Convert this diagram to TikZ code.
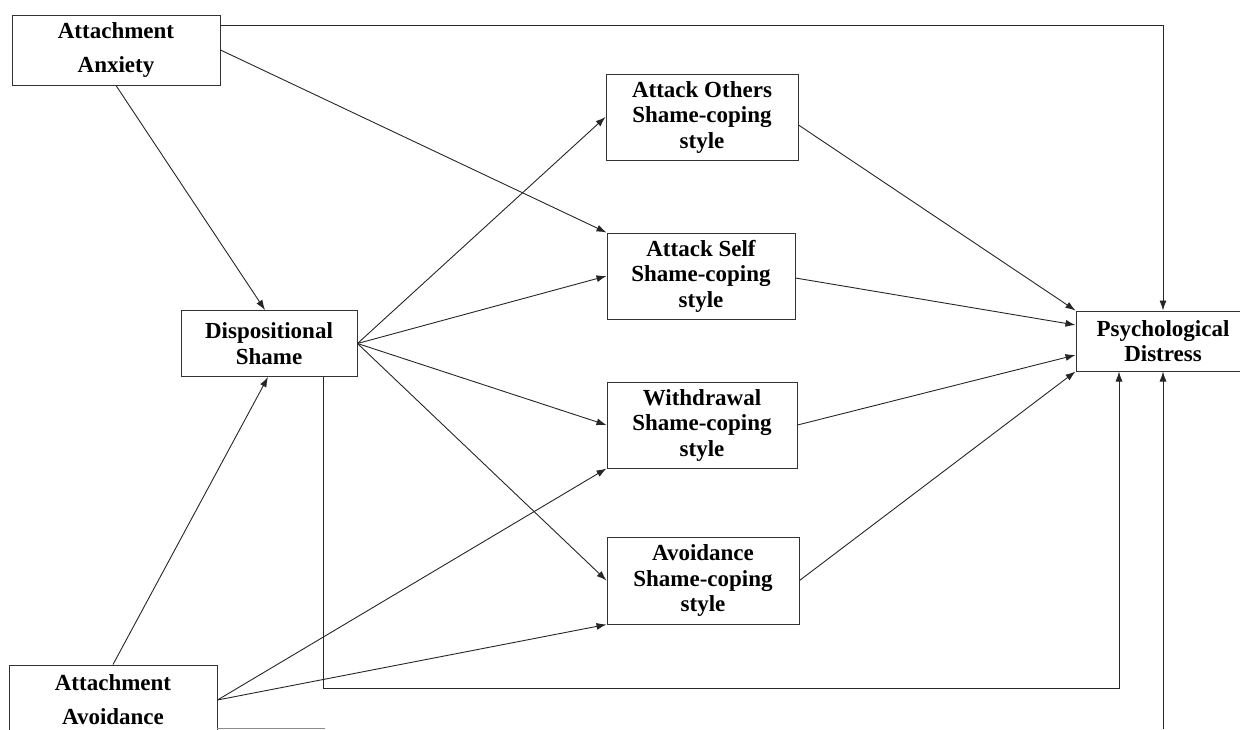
\documentclass[tikz,border=0pt]{standalone}
\usepackage{fontspec}
\setmainfont{Liberation Serif}
\usetikzlibrary{arrows.meta}
\begin{document}
\begin{tikzpicture}[x=1pt,y=-1pt,
  box/.style={draw=black!80, line width=1pt, align=center, inner sep=0pt,
    font=\fontsize{23}{25.5}\selectfont\bfseries},
  widebox/.style={box, font=\fontsize{23}{34}\selectfont\bfseries},
  conn/.style={draw=black!85, line width=0.9pt},
  arr/.style={conn, -{Latex[length=10pt,width=7pt]}}]
\useasboundingbox (0,0) rectangle (1240,729);
\clip (0,0) rectangle (1240,729);
% nodes
\node[widebox, minimum width=208pt, minimum height=70pt] (anx) at (116,50) {Attachment\\Anxiety};
\node[widebox, minimum width=208pt, minimum height=70pt] (avd) at (113,700) {Attachment\\Avoidance};
\node[box, minimum width=176pt, minimum height=66pt] (ds) at (269,343.5) {Dispositional\\Shame};
\node[box, minimum width=192pt, minimum height=86pt] (ao) at (702,117) {Attack Others\\Shame-coping\\style};
\node[box, minimum width=188pt, minimum height=86pt] (as) at (701,276) {Attack Self\\Shame-coping\\style};
\node[box, minimum width=190pt, minimum height=86pt] (wd) at (702,425) {Withdrawal\\Shame-coping\\style};
\node[box, minimum width=192pt, minimum height=87pt] (av) at (703,580.5) {Avoidance\\Shame-coping\\style};
\node[box, minimum width=174pt, minimum height=60pt] (pd) at (1163,341) {Psychological\\Distress};
% helper coordinates
\coordinate (t1) at (220,25);
\coordinate (c1) at (323,688);
\coordinate (c2) at (1119,688);
\coordinate (b1) at (217,728);
\coordinate (b2) at (325,728);
\coordinate (b3) at (1163,729);
% connectors
\draw[arr] (t1) -| (pd.north);
\draw[arr] (anx.east) -- (as.north west);
\draw[arr] (anx.south) -- ([xshift=-4pt]ds.north);
\draw[arr] (avd.north) -- ([xshift=-1pt]ds.south);
\draw[arr] (ds.east) -- (ao.west);
\draw[arr] (ds.east) -- (as.west);
\draw[arr] (ds.east) -- (wd.west);
\draw[arr] (ds.east) -- (av.west);
\draw[arr] (avd.east) -- (wd.south west);
\draw[arr] (avd.east) -- (av.south west);
\draw[arr] (ds.south -| c1) -- (c1) -- (c2) -- (pd.south -| c2);
\draw[conn, draw=black!45] (b1) -- (b2);
\draw[arr] (b3) -- (pd.south);
\draw[arr] ([yshift=-8pt]ao.east) -- (pd.north west);
\draw[arr] ([yshift=-2pt]as.east) -- ([yshift=16pt]pd.west);
\draw[arr] (wd.east) -- ([yshift=-14pt]pd.west);
\draw[arr] (av.east) -- (pd.south west);
\end{tikzpicture}
\end{document}
